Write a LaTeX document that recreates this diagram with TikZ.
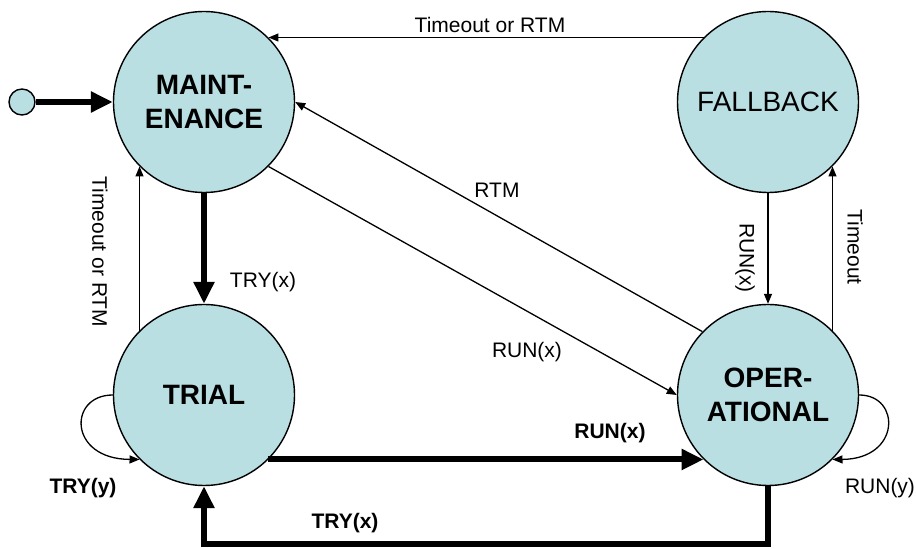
\documentclass[tikz,border=0pt]{standalone}
\usepackage{fontspec}
\setmainfont{Liberation Sans}
\usetikzlibrary{arrows.meta}
\definecolor{statefill}{RGB}{185,223,227}
\begin{document}
\begin{tikzpicture}[x=1pt, y=1pt, line width=1.3pt,
    state/.style={circle, draw, line width=1.4pt, fill=statefill, minimum size=181pt,
      inner sep=0pt, align=center, font=\fontsize{28}{34}\selectfont\bfseries},
    thin arrow/.style={-{Triangle[length=10pt, width=8pt]}},
    thick arrow/.style={line width=6pt, -{Triangle[length=22pt, width=20pt]}},
    lbl/.style={font=\fontsize{21}{25}\selectfont, inner sep=0pt},
    blbl/.style={lbl, font=\fontsize{21}{25}\selectfont\bfseries}]
  \useasboundingbox (0,0) rectangle (916,549);
  % states
  \node[circle, draw, line width=1.4pt, fill=statefill, minimum size=26pt, inner sep=0pt] (init) at (22,447) {};
  \node[state] (maint) at (204,447) {MAINT-\\ENANCE};
  \node[state, font=\fontsize{28}{34}\selectfont] (fallback) at (768,447) {FALLBACK};
  \node[state] (trial) at (204,154) {TRIAL};
  \node[state] (oper) at (768,154) {OPER-\\ATIONAL};
  % heavy transitions
  \draw[thick arrow] (init.east) -- (maint.west);
  \draw[thick arrow] (maint.south) -- (trial.north);
  \draw[thick arrow] (trial.-45) -- (oper.-135);
  \draw[thick arrow] (oper.south) -- ++(0,-58) -| (trial.south);
  % light transitions
  \draw[thin arrow] (fallback.135) -- (maint.45);
  \draw[thin arrow] (trial.135) -- (maint.-135);
  \draw[thin arrow] (oper.136) -- (maint.east);
  \draw[thin arrow] (maint.-45) -- (oper.west);
  \draw[thin arrow] (fallback.south) -- (oper.north);
  \draw[thin arrow] (oper.45) -- (fallback.-45);
  \draw[thin arrow] (trial.west) .. controls (68,154) and (68,90) .. (trial.225);
  \draw[thin arrow] (oper.east) .. controls (901,154) and (901,90) .. (oper.-45);
  % labels
  \node[lbl] at (490,524) {Timeout or RTM};
  \node[lbl] at (497,359) {RTM};
  \node[lbl] at (527,197) {RUN(x)};
  \node[lbl] at (263,267) {TRY(x)};
  \node[lbl, rotate=-90] at (100,297) {Timeout or RTM};
  \node[lbl, rotate=-90] at (745,291) {RUN(x)};
  \node[lbl, rotate=-90] at (855,302) {Timeout};
  \node[blbl] at (610,116) {RUN(x)};
  \node[blbl] at (345,26) {TRY(x)};
  \node[blbl] at (83,61) {TRY(y)};
  \node[lbl] at (880,61) {RUN(y)};
\end{tikzpicture}
\end{document}
